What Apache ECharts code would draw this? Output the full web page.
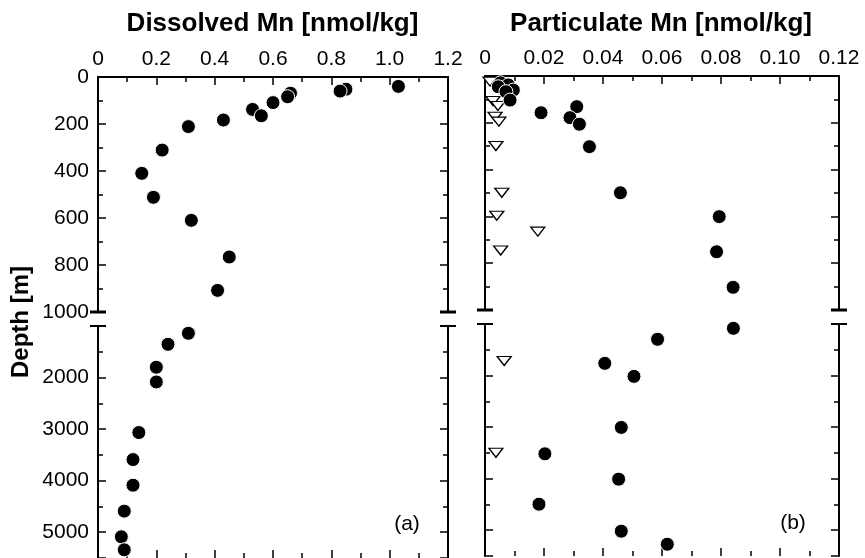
<!DOCTYPE html>
<html>
<head>
<meta charset="utf-8">
<script src="https://cdn.jsdelivr.net/npm/echarts@6/dist/echarts.min.js"></script>
<style>html,body{margin:0;padding:0;background:#fff}#c{width:865px;height:558px}</style>
</head>
<body>
<div id="c"></div>
<script>
// ---------------- DATA ----------------
// Panel (a): dissolved Mn [nmol/kg] vs depth [m]
const dissolvedMn    = [1.03, 0.85, 0.83, 0.66, 0.65, 0.60, 0.53, 0.56, 0.43, 0.31, 0.22, 0.15, 0.19, 0.32, 0.45, 0.41, 0.31, 0.24, 0.20, 0.20, 0.14, 0.12, 0.12, 0.09, 0.08, 0.09];
const dissolvedDepth = [40, 52, 60, 69, 84, 109, 138, 165, 183, 211, 311, 410, 512, 610, 766, 908, 1142, 1355, 1800, 2085, 3067, 3591, 4088, 4591, 5089, 5341];
// Panel (b): particulate Mn [nmol/kg] vs depth [m]
const particulateMn    = [0.0053, 0.0079, 0.0045, 0.0096, 0.0071, 0.0085, 0.0311, 0.0190, 0.0288, 0.0320, 0.0354, 0.0459, 0.0794, 0.0785, 0.0841, 0.0842, 0.0585, 0.0406, 0.0505, 0.0462, 0.0203, 0.0453, 0.0183, 0.0462, 0.0618];
const particulateDepth = [29, 38, 46, 60, 67, 103, 131, 157, 178, 206, 302, 499, 601, 751, 903, 1084, 1297, 1763, 2016, 3006, 3518, 4010, 4495, 5019, 5272];
// Panel (b): open triangles
const triangleMn    = [0.0017, 0.0027, 0.0044, 0.0034, 0.0047, 0.0037, 0.0057, 0.0040, 0.0179, 0.0053, 0.0065, 0.0037];
const triangleDepth = [24, 107, 128, 174, 195, 299, 499, 597, 665, 746, 1718, 3499];
// Tick labels
const xLabelsA = ['0', '0.2', '0.4', '0.6', '0.8', '1.0', '1.2'];
const xLabelsB = ['0', '0.02', '0.04', '0.06', '0.08', '0.10', '0.12'];
const depthLabelsUpper = ['0', '200', '400', '600', '800', '1000'];
const depthLabelsLower = ['', '2000', '3000', '4000', '5000'];
const titles = ['Dissolved Mn [nmol/kg]', 'Particulate Mn [nmol/kg]'];
const panelTags = ['(a)', '(b)'];
const yName = 'Depth [m]';

// ---------------- LAYOUT ----------------
const FONT = 'Arial, Liberation Sans, Helvetica, sans-serif';
const PA = {left: 98, width: 350};
const PB = {left: 485, width: 354};
const grids = [
  {left: PA.left, width: PA.width, top: 77, height: 235},
  {left: PA.left, width: PA.width, top: 326, height: 232},
  {left: PB.left, width: PB.width, top: 76, height: 234},
  {left: PB.left, width: PB.width, top: 324, height: 232}
];

function pairs(xs, ys, upper) {
  const out = [];
  for (let i = 0; i < xs.length; i++) {
    if (upper ? ys[i] <= 1000 : ys[i] > 1000) out.push([xs[i], ys[i]]);
  }
  return out;
}

const axLine = {show: true, lineStyle: {color: '#000', width: 2}};
const tick = {show: true, inside: true, length: 8, lineStyle: {color: '#000', width: 1.5}};
const minor = {show: true, splitNumber: 2, length: 5, lineStyle: {color: '#000', width: 1.5}};
const lblStyle = {color: '#000', fontSize: 21, fontFamily: FONT};

function xAx(grid, pos, max, interval, labels) {
  return {
    type: 'value', gridIndex: grid, position: pos, min: 0, max: max, interval: interval,
    axisLine: pos === 'top' ? axLine : {show: false},
    axisTick: tick, minorTick: minor, splitLine: {show: false}, minorSplitLine: {show: false},
    axisLabel: labels ? Object.assign({show: true, margin: 7, showMinLabel: true, showMaxLabel: true,
      formatter: v => labels[Math.round(v / interval)]}, lblStyle) : {show: false}
  };
}
function yAx(grid, pos, min, max, interval, labels) {
  return {
    type: 'value', gridIndex: grid, position: pos, min: min, max: max, interval: interval, inverse: true,
    axisLine: axLine, axisTick: tick, minorTick: minor, splitLine: {show: false}, minorSplitLine: {show: false},
    axisLabel: labels ? Object.assign({show: true, margin: 9, showMinLabel: true, showMaxLabel: true,
      formatter: v => { const k = Math.round((v - min) / interval); return labels[k] !== undefined ? labels[k] : ''; }}, lblStyle) : {show: false}
  };
}

const circleStyle = {color: '#000', borderColor: '#fff', borderWidth: 1, opacity: 1};
const triStyle = {color: '#fff', borderColor: '#000', borderWidth: 1.3, opacity: 1};

const series = [
  {type: 'scatter', xAxisIndex: 0, yAxisIndex: 0, symbol: 'circle', symbolSize: 14, itemStyle: circleStyle, data: pairs(dissolvedMn, dissolvedDepth, true)},
  {type: 'scatter', xAxisIndex: 1, yAxisIndex: 2, symbol: 'circle', symbolSize: 14, itemStyle: circleStyle, data: pairs(dissolvedMn, dissolvedDepth, false)},
  {type: 'scatter', xAxisIndex: 2, yAxisIndex: 4, symbol: 'triangle', symbolRotate: 180, symbolSize: [14, 9], itemStyle: triStyle, data: pairs(triangleMn, triangleDepth, true)},
  {type: 'scatter', xAxisIndex: 3, yAxisIndex: 6, symbol: 'triangle', symbolRotate: 180, symbolSize: [14, 9], itemStyle: triStyle, data: pairs(triangleMn, triangleDepth, false)},
  {type: 'scatter', xAxisIndex: 2, yAxisIndex: 4, symbol: 'circle', symbolSize: 14, itemStyle: circleStyle, data: pairs(particulateMn, particulateDepth, true)},
  {type: 'scatter', xAxisIndex: 3, yAxisIndex: 6, symbol: 'circle', symbolSize: 14, itemStyle: circleStyle, data: pairs(particulateMn, particulateDepth, false)}
];
series.forEach(s => { s.silent = true; s.animation = false; s.emphasis = {disabled: true}; });

// break marks and texts
const graphic = [];
function bar(x, y, w, h) {
  graphic.push({type: 'rect', shape: {x: x, y: y, width: w, height: h}, style: {fill: '#000'}, silent: true});
}
[[grids[0], grids[1]], [grids[2], grids[3]]].forEach(([u, l]) => {
  [u.left, u.left + u.width].forEach(xe => {
    bar(xe - 8, u.top + u.height - 1.5, 16, 3);
    bar(xe - 8, l.top - 1, 16, 2);
  });
});
[
  {text: titles[0], x: 272.5, y: 24, font: 'bold 26px ' + FONT},
  {text: titles[1], x: 661, y: 24, font: 'bold 26px ' + FONT},
  {text: panelTags[0], x: 407, y: 524, font: '21px ' + FONT},
  {text: panelTags[1], x: 793, y: 523, font: '21px ' + FONT}
].forEach(t => graphic.push({type: 'text', x: t.x, y: t.y, silent: true,
  style: {text: t.text, font: t.font, fill: '#000', align: 'center', verticalAlign: 'middle'}}));
graphic.push({type: 'text', x: 21, y: 322, rotation: Math.PI / 2, silent: true,
  style: {text: yName, font: 'bold 24px ' + FONT, fill: '#000', align: 'center', verticalAlign: 'middle'}});

const option = {
  backgroundColor: '#fff',
  animation: false,
  grid: grids,
  xAxis: [
    xAx(0, 'top', 1.2, 0.2, xLabelsA),
    xAx(1, 'bottom', 1.2, 0.2, null),
    xAx(2, 'top', 0.12, 0.02, xLabelsB),
    xAx(3, 'bottom', 0.12, 0.02, null)
  ],
  yAxis: [
    yAx(0, 'left', 0, 1000, 200, depthLabelsUpper),
    yAx(0, 'right', 0, 1000, 200, null),
    yAx(1, 'left', 1000, 5500, 1000, depthLabelsLower),
    yAx(1, 'right', 1000, 5500, 1000, null),
    yAx(2, 'left', 0, 1000, 200, null),
    yAx(2, 'right', 0, 1000, 200, null),
    yAx(3, 'left', 1000, 5500, 1000, null),
    yAx(3, 'right', 1000, 5500, 1000, null)
  ],
  series: series,
  graphic: graphic
};
const chart = echarts.init(document.getElementById('c'), null, {renderer: 'canvas'});
chart.setOption(option);
</script>
</body>
</html>
